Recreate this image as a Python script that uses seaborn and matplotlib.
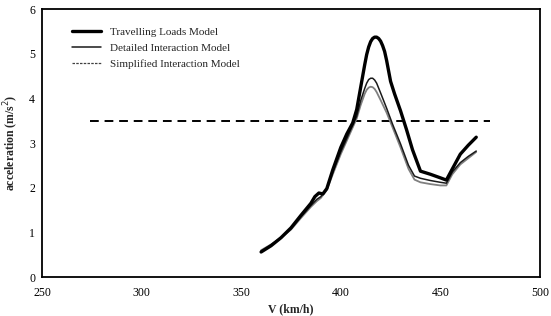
import matplotlib
matplotlib.use("Agg")
import matplotlib.pyplot as plt
import seaborn as sns
import pandas as pd
from matplotlib.lines import Line2D

# ---- data ----
v_travel = [360, 365, 370, 375, 380, 385, 387, 389, 391, 393, 396, 400, 403, 406, 408,
            410, 412, 413, 414, 415, 416, 417, 418, 419, 420, 421, 422, 423, 425, 427,
            430, 433, 436, 440, 445, 450, 453, 456, 460, 464, 468]
a_travel = [0.56, 0.70, 0.88, 1.10, 1.38, 1.65, 1.80, 1.88, 1.86, 1.98, 2.40, 2.90, 3.20,
            3.45, 3.75, 4.25, 4.75, 4.98, 5.15, 5.27, 5.34, 5.37, 5.37, 5.34, 5.28, 5.18,
            5.05, 4.85, 4.38, 4.10, 3.72, 3.30, 2.85, 2.37, 2.30, 2.22, 2.17, 2.42, 2.75,
            2.95, 3.13]

v_detail = [360, 365, 370, 375, 380, 385, 388, 390, 393, 396, 400, 403, 406, 408, 410,
            412, 413, 414, 415, 416, 417, 418, 420, 423, 426, 430, 434, 437, 440, 445,
            450, 453, 456, 460, 464, 468]
a_detail = [0.58, 0.72, 0.88, 1.08, 1.35, 1.60, 1.74, 1.80, 1.98, 2.35, 2.80, 3.10, 3.40,
            3.60, 3.95, 4.22, 4.34, 4.42, 4.45, 4.45, 4.41, 4.34, 4.12, 3.78, 3.42, 2.98,
            2.50, 2.26, 2.21, 2.16, 2.12, 2.10, 2.35, 2.56, 2.70, 2.82]

v_simple = [360, 365, 370, 375, 380, 385, 388, 390, 393, 396, 400, 403, 406, 408, 410,
            412, 413, 414, 415, 416, 417, 418, 420, 423, 426, 430, 434, 437, 440, 445,
            450, 453, 456, 460, 464, 468]
a_simple = [0.60, 0.73, 0.88, 1.06, 1.32, 1.57, 1.70, 1.77, 1.95, 2.30, 2.75, 3.05, 3.35,
            3.55, 3.85, 4.10, 4.19, 4.24, 4.26, 4.25, 4.21, 4.14, 3.96, 3.68, 3.35, 2.90,
            2.42, 2.18, 2.12, 2.08, 2.05, 2.05, 2.30, 2.52, 2.66, 2.80]

v_limit = [274, 475]
a_limit = [3.5, 3.5]

labels = ["Travelling Loads Model", "Detailed Interaction Model", "Simplified Interaction Model"]
x_ticks = [250, 300, 350, 400, 450, 500]
y_ticks = [0, 1, 2, 3, 4, 5, 6]

# ---- plotting ----
sns.set_theme(style="white")
plt.rcParams['font.family'] = ['Liberation Serif', 'DejaVu Serif']

fig = plt.figure(figsize=(5.51, 3.16), dpi=100)
ax = fig.add_axes([0.0762, 0.1234, 0.9038, 0.8481])

df_t = pd.DataFrame({"V": v_travel, "a": a_travel})
df_d = pd.DataFrame({"V": v_detail, "a": a_detail})
df_s = pd.DataFrame({"V": v_simple, "a": a_simple})
df_l = pd.DataFrame({"V": v_limit, "a": a_limit})

sns.lineplot(data=df_l, x="V", y="a", ax=ax, color="black", lw=1.4,
             dashes=False, linestyle=(0, (4.5, 3)), sort=False)
sns.lineplot(data=df_s, x="V", y="a", ax=ax, color="#808080", lw=1.3, sort=False)
sns.lineplot(data=df_d, x="V", y="a", ax=ax, color="#1a1a1a", lw=1.1, sort=False)
sns.lineplot(data=df_t, x="V", y="a", ax=ax, color="black", lw=2.4, sort=False)

ax.set_xlim(250, 500)
ax.set_ylim(0, 6)
ax.set_xticks(x_ticks)
ax.set_yticks(y_ticks)
ax.tick_params(axis="both", direction="out", length=3, width=1, labelsize=8.5,
               colors="black", pad=2)
ax.tick_params(axis="x", pad=4)
for s in ax.spines.values():
    s.set_color("black")
    s.set_linewidth(1.3)

ax.set_xlabel("V (km/h)", fontsize=8.5, fontweight="bold", labelpad=3)
ax.set_ylabel("acceleration (m/s$^2$)", fontsize=8.5, fontweight="bold", labelpad=6)

handles = [Line2D([], [], color="black", lw=2.4),
           Line2D([], [], color="#1a1a1a", lw=1.1),
           Line2D([], [], color="#404040", lw=0.9, linestyle=(0, (2, 1)))]
ax.legend(handles, labels, loc="upper left", bbox_to_anchor=(0.04, 0.97),
          frameon=False, fontsize=8, handlelength=2.6, handletextpad=0.8,
          labelspacing=0.55)

fig.savefig("out.png", dpi=100)
